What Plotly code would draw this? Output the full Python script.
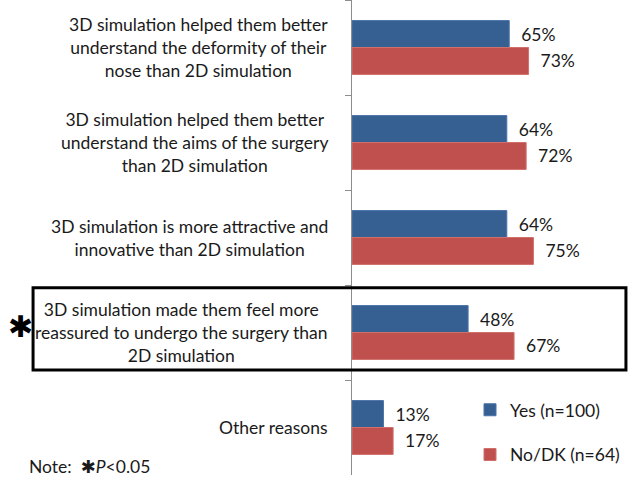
import plotly.graph_objects as go

# 数据
categories = [
    "3D simulation helped them better<br>understand the deformity of their<br>nose than 2D simulation",
    "3D simulation helped them better<br>understand the aims of the surgery<br>than 2D simulation",
    "3D simulation is more attractive and<br>innovative than 2D simulation",
    "3D simulation made them feel more<br>reassured to undergo the surgery than<br>2D simulation",
    "Other reasons",
]
yes_values = [65, 64, 64, 48, 13]
no_values = [73, 72, 75, 67, 17]
series_names = ["Yes (n=100)", "No/DK (n=64)"]

blue = "#376092"
red = "#C0504D"
font_family = "Lato, 'Open Sans', sans-serif"
txt_size = 17.5

keys = [f"c{i}" for i in range(len(categories))]

fig = go.Figure()

fig.add_trace(go.Bar(
    y=keys, x=yes_values, orientation="h",
    name=series_names[0], legendgroup="a",
    marker=dict(color=blue, line=dict(color="#4a72a8", width=1)),
    text=[f"\u00a0\u00a0{v}%" for v in yes_values], textposition="outside",
    textfont=dict(size=txt_size, color="#1a1a1a", family=font_family),
    cliponaxis=False,
))
fig.add_trace(go.Bar(
    y=keys, x=no_values, orientation="h",
    name=series_names[1], legendgroup="b",
    marker=dict(color=red, line=dict(color="#d0706d", width=1)),
    text=[f"\u00a0\u00a0{v}%" for v in no_values], textposition="outside",
    textfont=dict(size=txt_size, color="#1a1a1a", family=font_family),
    cliponaxis=False,
))

# 类别标签（居中对齐的多行文本）
for k, label in zip(keys, categories):
    fig.add_annotation(
        x=-0.078, xref="paper", y=k, yref="y",
        text=label, showarrow=False, xanchor="right", align="center",
        font=dict(size=txt_size, color="#1a1a1a", family=font_family),
    )

# 显著性框与星号
fig.add_shape(
    type="rect", xref="paper", yref="paper",
    x0=-1.127, x1=0.968, y0=0.221, y1=0.394,
    line=dict(color="black", width=3),
)
fig.add_annotation(
    x=-1.173, xref="paper", y=0.312, yref="paper", xanchor="center", yanchor="middle",
    text="✱", showarrow=False,
    font=dict(size=30, color="black", family="DejaVu Sans"),
)
fig.add_annotation(
    x=-1.148, xref="paper", y=0.017, yref="paper", xanchor="left", yanchor="middle",
    text="Note:  <span style='font-family:DejaVu Sans;font-size:18px'>✱</span><i>P</i>&lt;0.05",
    showarrow=False,
    font=dict(size=txt_size, color="#1a1a1a", family=font_family),
)

fig.update_layout(
    width=635, height=481,
    margin=dict(l=352, r=0, t=0, b=6, autoexpand=False),
    plot_bgcolor="white", paper_bgcolor="white",
    barmode="group", bargap=0.433, bargroupgap=0,
    showlegend=True,
    legend=dict(
        x=0.417, y=0.175, xanchor="left", yanchor="top",
        font=dict(size=txt_size, color="#1a1a1a", family=font_family),
        tracegroupgap=19, traceorder="grouped",
        bgcolor="rgba(0,0,0,0)",
    ),
    font=dict(family=font_family),
)
fig.update_xaxes(range=[0, 117], visible=False)
fig.update_yaxes(
    autorange="reversed", showticklabels=False,
    showline=True, linecolor="#8c8c8c", linewidth=1,
    ticks="outside", ticklen=6, tickcolor="#8c8c8c", tickson="boundaries",
    showgrid=False, zeroline=False,
)

# 去掉页面默认边距，使图表贴齐窗口左上角
fig.write_html(
    "out.html",
    config={"displayModeBar": False},
    post_script="document.body.style.margin='0';",
)
